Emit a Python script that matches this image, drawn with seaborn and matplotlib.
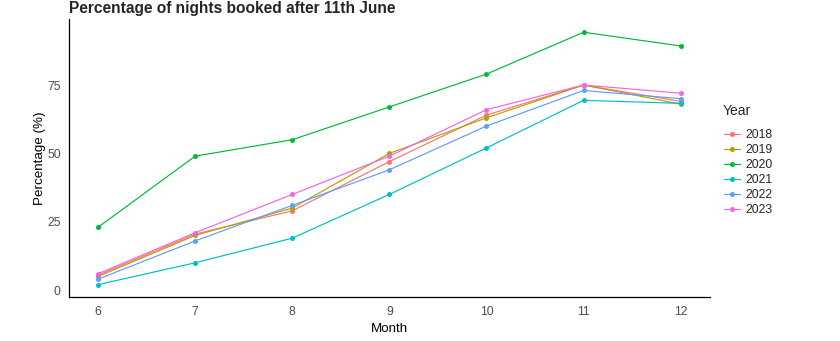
import matplotlib
matplotlib.use("Agg")
import matplotlib.pyplot as plt
import seaborn as sns
import pandas as pd

# Monthly share of nights booked after 11th June, by year
months = [6, 7, 8, 9, 10, 11, 12]
years = ["2018", "2019", "2020", "2021", "2022", "2023"]
pct_2018 = [5.5, 20.5, 29, 47, 64, 75, 69]
pct_2019 = [5, 20, 30, 50, 63, 75, 68]
pct_2020 = [23, 49, 55, 67, 79, 94.3, 89.3]
pct_2021 = [2, 10, 19, 35, 52, 69.4, 68.3]
pct_2022 = [4, 18, 31, 44, 60, 73, 70]
pct_2023 = [6, 21, 35, 49, 66, 75, 72]
palette = ["#F8766D", "#B79F00", "#00BA38", "#00BFC4", "#619CFF", "#F564E3"]

series = [pct_2018, pct_2019, pct_2020, pct_2021, pct_2022, pct_2023]
df = pd.DataFrame(
    [(m, y, v) for y, vals in zip(years, series) for m, v in zip(months, vals)],
    columns=["Month", "Year", "Percentage"],
)

sns.set_style("white")
plt.rcParams["font.family"] = ["Liberation Sans", "DejaVu Sans"]

fig = plt.figure(figsize=(8.4, 3.41), dpi=100)
ax = fig.add_axes([0.0821, 0.1276, 0.7629, 0.8155])

sns.lineplot(
    data=df, x="Month", y="Percentage", hue="Year", hue_order=years,
    palette=palette, marker="o", markersize=3.6, markeredgewidth=0,
    linewidth=0.85, ax=ax, legend=True,
)

ax.set_xlim(5.7, 12.3)
ax.set_ylim(-2.7, 99)
ax.set_xticks(months)
ax.set_yticks([0, 25, 50, 75])
ax.tick_params(axis="both", direction="out", length=3, width=0.8,
               color="#333333", labelsize=8.8, labelcolor="#4D4D4D", pad=3)
for side in ("top", "right"):
    ax.spines[side].set_visible(False)
for side in ("left", "bottom"):
    ax.spines[side].set_color("black")
    ax.spines[side].set_linewidth(0.9)

ax.set_xlabel("Month", fontsize=9.6, color="black", labelpad=3.5)
ax.set_ylabel("Percentage (%)", fontsize=9.6, color="black", labelpad=0.5)
fig.text(0.0821, 0.997, "Percentage of nights booked after 11th June",
         fontsize=11.2, fontweight="bold", ha="left", va="top")

# Legend: title placed separately so the gap above the entries is wider
fig.text(723 / 840, 1 - 111 / 341, "Year", fontsize=10, ha="left", va="center")
handles, labels = ax.get_legend_handles_labels()
ax.legend(handles, labels, loc="upper left",
          bbox_to_anchor=(0.856, 1 - 124 / 341), bbox_transform=fig.transFigure,
          frameon=False, fontsize=8.8,
          handlelength=1.3, handletextpad=0.45, labelspacing=0.25,
          borderaxespad=0)

fig.savefig("out.png", dpi=100)
